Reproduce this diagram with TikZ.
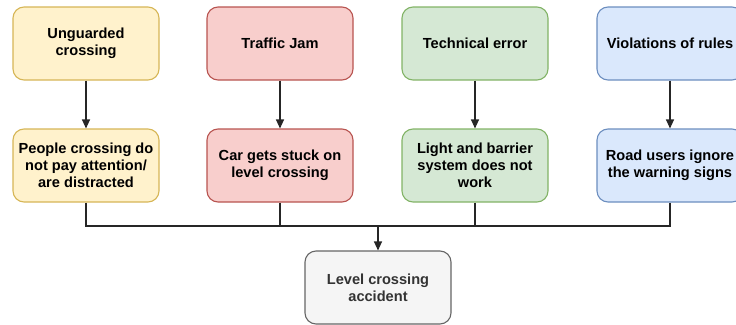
\documentclass[tikz,border=0pt]{standalone}
\usepackage{fontspec}
\setmainfont{Liberation Sans}
\usetikzlibrary{arrows.meta}
\definecolor{yfill}{HTML}{FFF2CC}\definecolor{ydraw}{HTML}{D6B656}
\definecolor{rfill}{HTML}{F8CECC}\definecolor{rdraw}{HTML}{B85450}
\definecolor{gfill}{HTML}{D5E8D4}\definecolor{gdraw}{HTML}{82B366}
\definecolor{bfill}{HTML}{DAE8FC}\definecolor{bdraw}{HTML}{6C8EBF}
\definecolor{kfill}{HTML}{F5F5F5}\definecolor{kdraw}{HTML}{666666}
\definecolor{ktext}{HTML}{333333}
\tikzset{
  box/.style={draw, rounded corners=11pt, minimum width=146pt, minimum height=73pt,
    inner sep=0pt, align=center, line width=1.1pt,
    font=\fontsize{14.6}{17}\selectfont\bfseries},
  ybox/.style={box, fill=yfill, draw=ydraw},
  rbox/.style={box, fill=rfill, draw=rdraw},
  gbox/.style={box, fill=gfill, draw=gdraw},
  bbox/.style={box, fill=bfill, draw=bdraw},
  kbox/.style={box, fill=kfill, draw=kdraw, text=ktext},
  conn/.style={line width=1.1pt, draw=black!85},
  arr/.style={conn, -{Triangle[length=9pt,width=8pt]}},
}
\begin{document}
\begin{tikzpicture}[x=1pt,y=-1pt]
\useasboundingbox (0,0) rectangle (736,324);
\clip (0,0) rectangle (736,324);
\node[ybox] (t1) at (86,43.5) {Unguarded\\crossing};
\node[rbox] (t2) at (280,43.5) {Traffic Jam};
\node[gbox] (t3) at (475,43.5) {Technical error};
\node[bbox] (t4) at (670,43.5) {Violations of rules};
\node[ybox] (b1) at (86,165.5) {People crossing do\\not pay attention/\\are distracted};
\node[rbox] (b2) at (280,165.5) {Car gets stuck on\\level crossing};
\node[gbox] (b3) at (475,165.5) {Light and barrier\\system does not\\work};
\node[bbox] (b4) at (670,165.5) {Road users ignore\\the warning signs};
\node[kbox] (acc) at (378,287.5) {Level crossing\\accident};
\coordinate (m) at (378,226);
\foreach \i in {1,...,4} {\draw[arr] (t\i) -- (b\i);}
\draw[conn] (b1.south) |- (m);
\draw[conn] (b2.south) |- (m);
\draw[conn] (b3.south) |- (m);
\draw[conn] (b4.south) |- (m);
\draw[arr] (m) -- (acc);
\end{tikzpicture}
\end{document}
